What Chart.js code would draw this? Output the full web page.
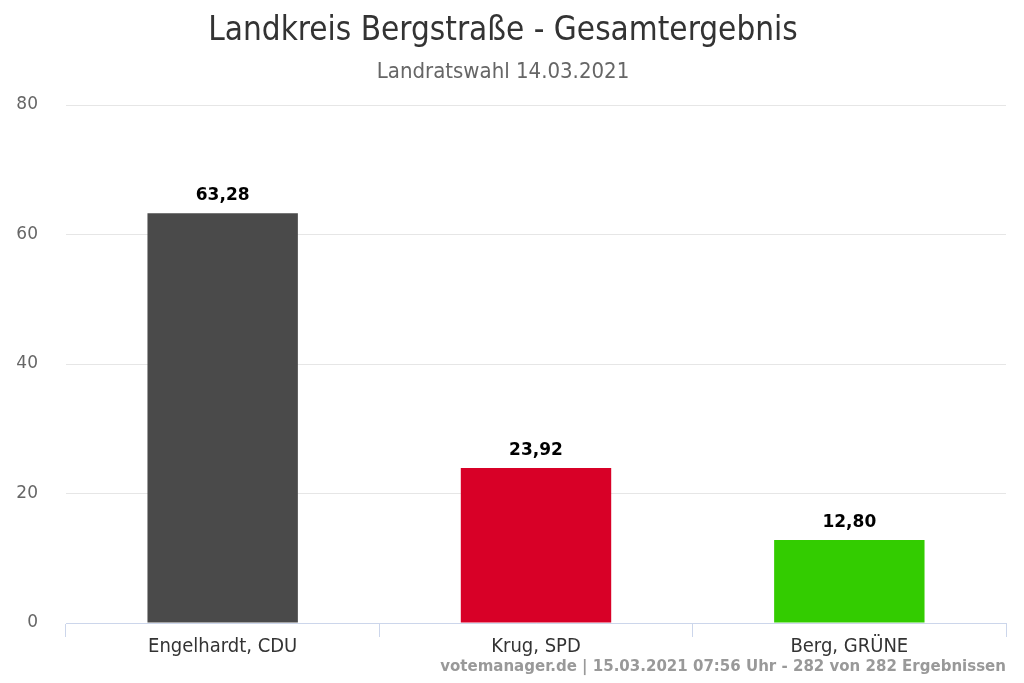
<!DOCTYPE html>
<html>
<head>
<meta charset="utf-8">
<script src="https://cdn.jsdelivr.net/npm/chart.js@4"></script>
<style>
  html, body { margin:0; padding:0; background:#fff; }
  #wrap { width:1024px; height:683px; }
</style>
</head>
<body>
<div id="wrap"><canvas id="chart" width="1024" height="683"></canvas></div>
<script>
// candidates and their share of votes (%)
let candidates = ["Engelhardt, CDU", "Krug, SPD", "Berg, GRÜNE"];
let shares = [63.28, 23.92, 12.80];
let barColors = ["#4a4a4a", "#d80027", "#33cc00"];
let yTicks = [0, 20, 40, 60, 80];

let titleText = "Landkreis Bergstraße - Gesamtergebnis";
let subtitleText = "Landratswahl 14.03.2021";
let creditText = "votemanager.de | 15.03.2021 07:56 Uhr - 282 von 282 Ergebnissen";

let condensed = "'DejaVu Sans Condensed', 'DejaVu Sans', sans-serif";

// draws value above each bar and the credit line at the bottom
let labelPlugin = {
    id: "barLabels",
    afterDatasetsDraw(chart){
        let ctx = chart.ctx;
        let meta = chart.getDatasetMeta(0);
        ctx.save();
        ctx.font = "bold 17px 'DejaVu Sans', sans-serif";
        ctx.fillStyle = "#000";
        ctx.textAlign = "center";
        ctx.textBaseline = "bottom";
        meta.data.forEach((bar, i) => {
            ctx.fillText(shares[i].toFixed(2).replace(".", ","), bar.x, bar.y - 9);
        });
        ctx.font = "bold 16.7px " + condensed;
        ctx.fillStyle = "#999";
        ctx.textAlign = "right";
        ctx.textBaseline = "middle";
        ctx.fillText(creditText, 1006, 667);
        ctx.restore();
    }
};

let context = document.getElementById("chart").getContext("2d");

new Chart(context,
{
    type: "bar",
    data:
    {
        labels: candidates,
        datasets:
        [{
            data: shares,
            backgroundColor: barColors,
            barPercentage: 0.48,
            categoryPercentage: 1
        }]
    },
    options:
    {
        responsive: false,
        animation: false,
        layout: { padding: { left: 0, right: 18, top: 0, bottom: 26 } },
        plugins:
        {
            legend: { display: false },
            tooltip: { enabled: false },
            title:
            {
                display: true,
                text: titleText,
                color: "#333",
                font: { family: condensed, size: 33, weight: "normal" },
                padding: { top: 12, bottom: 7 }
            },
            subtitle:
            {
                display: true,
                text: subtitleText,
                color: "#666",
                font: { family: condensed, size: 22, weight: "normal" },
                padding: { top: 0, bottom: 20 }
            }
        },
        scales:
        {
            x:
            {
                grid:
                {
                    display: true,
                    offset: true,
                    drawOnChartArea: false,
                    drawTicks: true,
                    tickLength: 14,
                    color: "#ccd6eb"
                },
                border: { color: "#ccd6eb" },
                ticks:
                {
                    color: "#333",
                    padding: -2,
                    font: { family: condensed, size: 20 }
                }
            },
            y:
            {
                min: 0,
                max: 80,
                afterBuildTicks: axis => { axis.ticks = yTicks.map(v => ({ value: v })); },
                afterFit: axis => { axis.width = 66; },
                grid: { color: "#e6e6e6", drawTicks: false },
                border: { display: false },
                ticks:
                {
                    color: "#666",
                    padding: 28,
                    font: { family: "'DejaVu Sans', sans-serif", size: 17 }
                }
            }
        }
    },
    plugins: [labelPlugin]
});
</script>
</body>
</html>
